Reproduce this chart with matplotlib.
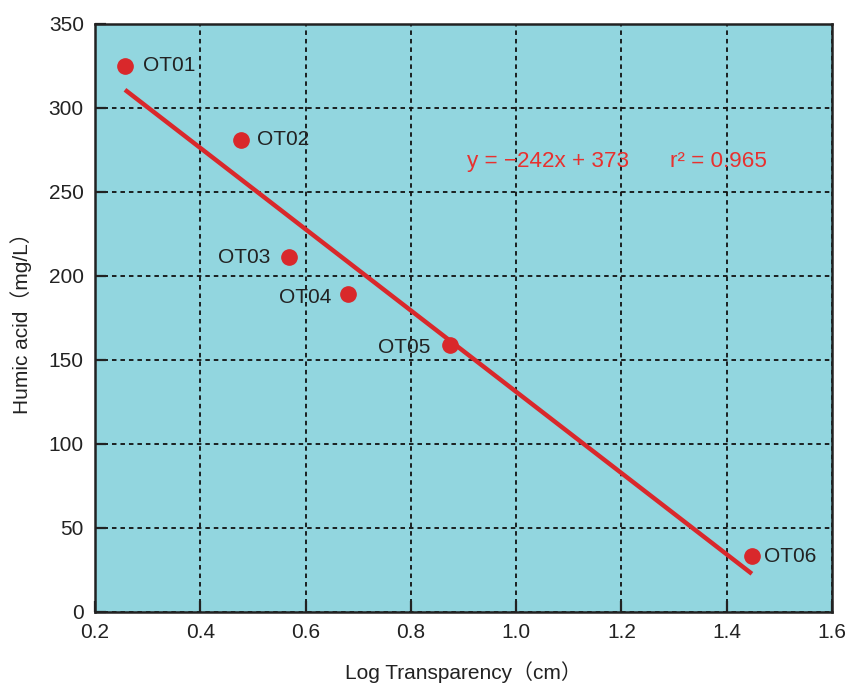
import numpy as np
import matplotlib
matplotlib.use('Agg')
import matplotlib.pyplot as plt

plt.rcParams['font.family'] = ['Liberation Sans', 'Noto Sans CJK JP', 'DejaVu Sans']

# Sample data
sites = ['OT01', 'OT02', 'OT03', 'OT04', 'OT05', 'OT06']
log_transp = [0.257, 0.477, 0.568, 0.680, 0.874, 1.448]
humic = [325, 281, 211, 189, 159, 33]
slope, intercept = -242, 373

# label offsets in points and alignment
label_pos = {
    'OT01': (13, 0, 'left'),
    'OT02': (12, 0, 'left'),
    'OT03': (-13, 0, 'right'),
    'OT04': (-12, -2, 'right'),
    'OT05': (-14, -2, 'right'),
    'OT06': (9, 0, 'left'),
}

red = '#d9282b'
bg = '#92d6df'
fs = 15

fig = plt.figure(figsize=(8.48, 6.85), dpi=100)
ax = fig.add_axes([0.112, 0.107, 0.869, 0.858])
ax.set_facecolor(bg)

# regression line over the data range
xx = np.array([min(log_transp), max(log_transp)])
ax.plot(xx, slope * xx + intercept, color=red, lw=3.2, solid_capstyle='butt', zorder=3)
ax.plot(log_transp, humic, 'o', color=red, ms=11, zorder=4)

for s, x, y in zip(sites, log_transp, humic):
    dx, dy, ha = label_pos[s]
    ax.annotate(s, (x, y), xytext=(dx, dy), textcoords='offset points',
                ha=ha, va='center', fontsize=fs, color='#222222', zorder=5)

ax.text(0.907, 268, 'y = \u2212242x + 373', color='#e8312f', fontsize=16.2, va='center')
ax.text(1.292, 268, 'r\u00b2 = 0.965', color='#e8312f', fontsize=16.2, va='center')

ax.set_xlim(0.2, 1.6)
ax.set_ylim(0, 350)
ax.set_xticks(np.arange(0.2, 1.61, 0.2))
ax.set_xticklabels([f'{v:.1f}' for v in np.arange(0.2, 1.61, 0.2)])
ax.set_yticks(np.arange(0, 351, 50))

ax.grid(True, color='#111111', ls=(0, (2.5, 2.2)), lw=1.3)
ax.set_axisbelow(True)
ax.tick_params(direction='in', length=8, width=1.6, labelsize=fs, pad=8, colors='#222222')
for sp in ax.spines.values():
    sp.set_linewidth(1.8)
    sp.set_color('#222222')

ax.set_xlabel('Log Transparency\uff08cm\uff09', fontsize=fs, labelpad=14, color='#222222')
ax.set_ylabel('Humic acid\uff08mg/L\uff09', fontsize=fs, labelpad=12, color='#222222')

fig.savefig('out.png', dpi=100)
